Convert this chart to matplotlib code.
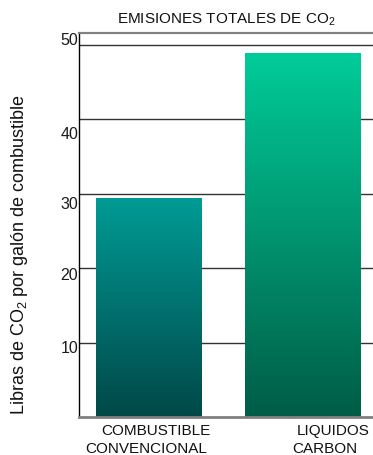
import matplotlib
matplotlib.use("Agg")
import matplotlib.pyplot as plt
import matplotlib.transforms as mtransforms
import numpy as np
from matplotlib.colors import to_rgb

plt.rcParams['font.family'] = ['Liberation Sans', 'DejaVu Sans']
plt.rcParams['mathtext.fontset'] = 'custom'
plt.rcParams['mathtext.rm'] = 'Liberation Sans'

# Data
categories = [["COMBUSTIBLE", "CONVENCIONAL"], ["LIQUIDOS", "CARBON"]]
values = [29.5, 48.9]
ytick_values = [10, 20, 30, 40, 50]
title = r"EMISIONES TOTALES DE CO$_\mathrm{2}$"
ylabel = r"Libras de CO$_\mathrm{2}$ por galón de combustible"

# Styling
bar_widths = [0.68, 0.75]
top_colors = ["#009b95", "#00cc99"]
bottom_colors = ["#004848", "#005c46"]
# small vertical nudges (points) for the y tick labels, per tick
ytick_nudge = [-4.0, -5.0, -7.5, -10.5, 3.5]
# horizontal nudges (points) for each line of the category labels
xlabel_nudge = [[5.5, -2.0], [21.5, 16.0]]

fig = plt.figure(figsize=(3.73, 4.55), dpi=100)
ax = fig.add_axes([0.213, 0.0835, 0.787, 0.8435])

x = np.arange(len(values))
bars = ax.bar(x, values, width=bar_widths, color="none", zorder=2)

# vertical gradient fill clipped to each bar
for bar, c_top, c_bot in zip(bars, top_colors, bottom_colors):
    t = np.linspace(0, 1, 256)[:, None]
    grad = (1 - t) * np.array(to_rgb(c_top)) + t * np.array(to_rgb(c_bot))
    grad = grad[:, None, :]
    x0, y0 = bar.get_x(), bar.get_y()
    img = ax.imshow(grad, extent=[x0, x0 + bar.get_width(), y0, y0 + bar.get_height()],
                    origin="upper", aspect="auto", zorder=2, interpolation="bilinear")
    img.set_clip_path(bar)

ax.set_xlim(-0.447, 1.453)
ax.set_ylim(0, 51.6)

# horizontal grid lines behind the bars
for v in ytick_values:
    ax.axhline(v, color="#333333", lw=1.0, zorder=1)

ax.set_xticks([])
ax.set_yticks([])
ax.spines["right"].set_visible(False)
ax.spines["left"].set_color("black")
ax.spines["left"].set_linewidth(1.0)
ax.spines["top"].set_color("#808080")
ax.spines["top"].set_linewidth(1.6)
ax.spines["bottom"].set_color("#808080")
ax.spines["bottom"].set_linewidth(2.0)

# y tick labels
ytrans = mtransforms.blended_transform_factory(ax.transAxes, ax.transData)
for v, dy in zip(ytick_values, ytick_nudge):
    tr = ytrans + mtransforms.ScaledTranslation(-0.8 / 72, dy / 72, fig.dpi_scale_trans)
    ax.text(0, v, str(v), transform=tr, ha="right", va="center", fontsize=11.5, color="#1a1a1a")

# category labels, one text per line
xtrans = mtransforms.blended_transform_factory(ax.transData, ax.transAxes)
for xi, lines, nudges in zip(x, categories, xlabel_nudge):
    for k, (line, dx) in enumerate(zip(lines, nudges)):
        tr = xtrans + mtransforms.ScaledTranslation(dx / 72, (-10 - 13 * k) / 72, fig.dpi_scale_trans)
        ax.text(xi, 0, line, transform=tr, ha="center", va="center", fontsize=11, color="#111111")

fig.text(0.5 * (0.213 + 1.0), 1 - 20 / 455, title, ha="center", va="center", fontsize=11, color="#111111")
fig.text(20 / 373, 1 - 254 / 455, ylabel, rotation=90, ha="center", va="center", fontsize=13, color="#111111")

fig.savefig("out.png", dpi=100)
